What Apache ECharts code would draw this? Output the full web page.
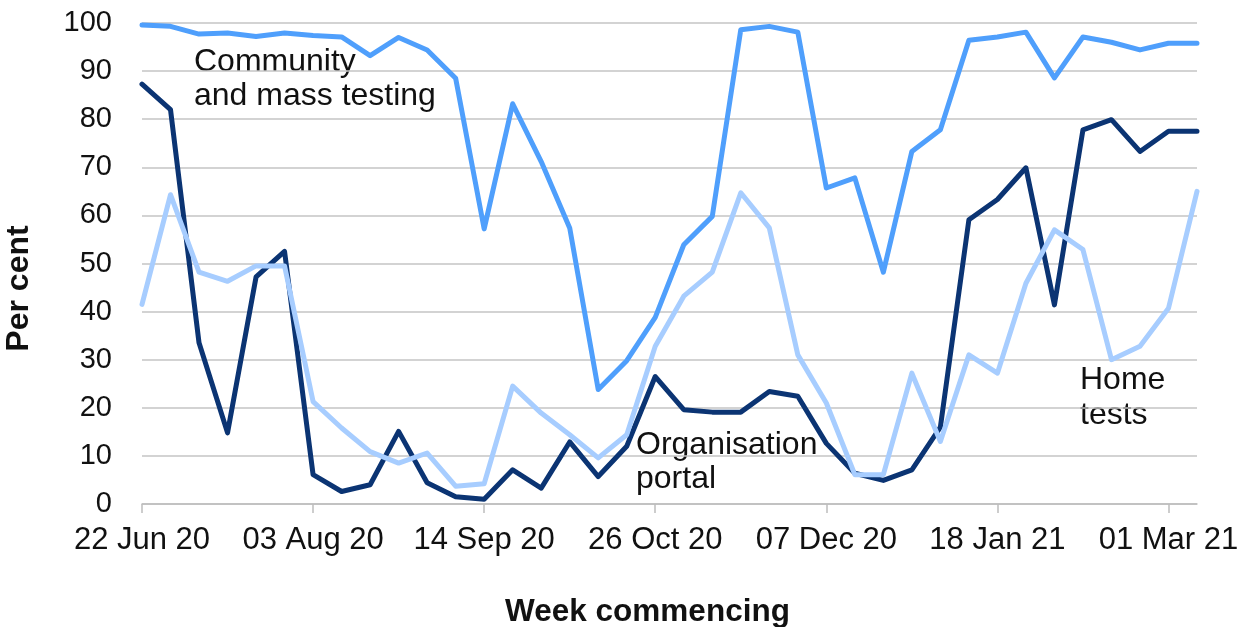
<!DOCTYPE html>
<html>
<head>
<meta charset="utf-8">
<script src="https://cdn.jsdelivr.net/npm/echarts@6/dist/echarts.min.js"></script>
<style>
html,body{margin:0;padding:0;background:#fff;}
#chart{width:1246px;height:627px;}
</style>
</head>
<body>
<div id="chart"></div>
<script>
const weeks = ['22 Jun 20','29 Jun 20','06 Jul 20','13 Jul 20','20 Jul 20','27 Jul 20','03 Aug 20','10 Aug 20','17 Aug 20','24 Aug 20','31 Aug 20','07 Sep 20','14 Sep 20','21 Sep 20','28 Sep 20','05 Oct 20','12 Oct 20','19 Oct 20','26 Oct 20','02 Nov 20','09 Nov 20','16 Nov 20','23 Nov 20','30 Nov 20','07 Dec 20','14 Dec 20','21 Dec 20','28 Dec 20','04 Jan 21','11 Jan 21','18 Jan 21','25 Jan 21','01 Feb 21','08 Feb 21','15 Feb 21','22 Feb 21','01 Mar 21','08 Mar 21'];

const community = [99.6,99.3,97.7,97.9,97.2,97.9,97.4,97.1,93.2,97.0,94.4,88.5,57.2,83.2,71.2,57.4,23.8,29.8,38.8,53.9,59.8,98.6,99.3,98.1,65.7,67.8,48.2,73.3,77.8,96.4,97.1,98.1,88.6,97.1,96.0,94.4,95.8,95.8];
const portal = [87.3,82.0,33.5,14.8,47.2,52.5,6.1,2.6,4.0,15.1,4.4,1.5,1.0,7.1,3.3,12.9,5.7,12.0,26.5,19.6,19.1,19.1,23.4,22.4,12.6,6.4,4.9,7.1,16.0,59.1,63.3,69.9,41.4,77.8,79.9,73.3,77.5,77.5];
const home = [41.5,64.3,48.2,46.3,49.5,49.5,21.3,15.8,10.9,8.5,10.6,3.7,4.2,24.5,18.9,14.4,9.6,14.4,32.8,43.2,48.2,64.7,57.4,31.0,21.0,6.1,6.1,27.2,13.0,31.0,27.2,45.9,57.0,52.9,30.0,32.8,40.7,65.0];

const seriesNames = ['Community and mass testing','Organisation portal','Home tests'];
const annotations = ['Community\nand mass testing','Organisation\nportal','Home\ntests'];
const yTicks = [0,10,20,30,40,50,60,70,80,90,100];

const colors = {community:'#4f9ffc', portal:'#0b3473', home:'#a7cdff'};
const FONT = '"Liberation Sans", Arial, sans-serif';
const txt = '#111111';

const chart = echarts.init(document.getElementById('chart'), null, {renderer:'canvas'});

function line(name, data, color){
  return {
    name, type:'line', data, symbol:'none', smooth:false,
    lineStyle:{color, width:5, join:'round', cap:'round'},
    itemStyle:{color},
    emphasis:{disabled:true}
  };
}

chart.setOption({
  animation:false,
  backgroundColor:'#ffffff',
  grid:{left:142, right:49, top:23, bottom:123, containLabel:false, outerBoundsMode:'none'},
  xAxis:{
    type:'category', data:weeks, boundaryGap:false,
    axisLine:{show:true, lineStyle:{color:'#bdbdbd', width:1.5}},
    axisTick:{show:true, interval:5, length:9, lineStyle:{color:'#bdbdbd', width:1.5}},
    axisLabel:{interval:5, margin:21, fontFamily:FONT, fontSize:31, color:txt, hideOverlap:false},
    splitLine:{show:false},
    name:'Week commencing', nameLocation:'middle', nameGap:92,
    nameTextStyle:{fontFamily:FONT, fontSize:31.5, fontWeight:'bold', color:txt, padding:[0,44,0,0]}
  },
  yAxis:{
    type:'value', min:0, max:100, interval:10,
    axisLine:{show:false}, axisTick:{show:false},
    axisLabel:{margin:30, fontFamily:FONT, fontSize:29, color:txt,
      formatter:(v)=> yTicks.includes(v) ? String(v) : ''},
    splitLine:{show:true, lineStyle:{color:'#c4c4c4', width:1.5}},
    name:'Per cent', nameLocation:'middle', nameGap:107, nameRotate:90,
    nameTextStyle:{fontFamily:FONT, fontSize:32, fontWeight:'bold', color:txt, padding:[0,50,0,0]}
  },
  series:[
    line(seriesNames[1], portal, colors.portal),
    line(seriesNames[2], home, colors.home),
    line(seriesNames[0], community, colors.community)
  ],
  graphic:[
    {type:'text', left:194, top:45, silent:true,
      style:{text:annotations[0], font:'32px '+FONT, fill:txt, lineHeight:34}},
    {type:'text', left:636, top:428, silent:true,
      style:{text:annotations[1], font:'32px '+FONT, fill:txt, lineHeight:34}},
    {type:'text', left:1080, top:363, silent:true,
      style:{text:annotations[2], font:'32px '+FONT, fill:txt, lineHeight:35}}
  ]
});
</script>
</body>
</html>
